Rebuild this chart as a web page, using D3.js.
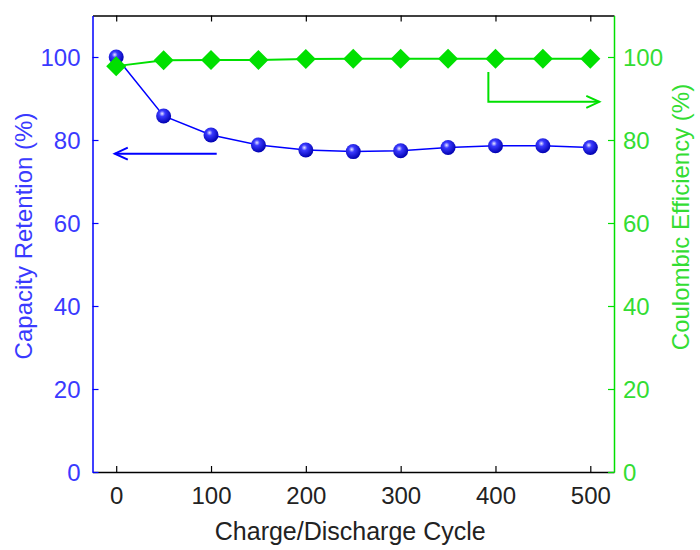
<!DOCTYPE html>
<html>
<head>
<meta charset="UTF-8" />
<title>Capacity retention</title>
<script src="https://cdn.jsdelivr.net/npm/d3@7"></script>
<style>
  body { margin: 0; background: #fff; }
  text { font-family: "Liberation Sans", Arial, sans-serif; }
</style>
</head>
<body>
<div id="chart"></div>
<script>
// data
const cycles = [0, 50, 100, 150, 200, 250, 300, 350, 400, 450, 500];
const retention = [100, 85.8, 81.2, 78.8, 77.6, 77.2, 77.4, 78.2, 78.6, 78.6, 78.2];
const efficiency = [97.8, 99.2, 99.3, 99.3, 99.5, 99.6, 99.6, 99.6, 99.6, 99.6, 99.6];
const xTicks = [0, 100, 200, 300, 400, 500];
const yTicks = [0, 20, 40, 60, 80, 100];

const W = 700, H = 550;
const mLeft = 92.5, mRight = 614, mTop = 15.5, mBottom = 472;
const blue = '#0000ff', blueText = '#3a3aff';
const green = '#00e000', greenText = '#33dd33';

const svg = d3.select('#chart').append('svg')
  .attr('width', W).attr('height', H);

const x = d3.scaleLinear().domain([-25, 525]).range([mLeft, mRight]);
const yL = d3.scaleLinear().domain([0, 110]).range([mBottom, mTop]);
const yR = d3.scaleLinear().domain([0, 110]).range([mBottom, mTop]);

// gradient for the spheres
const defs = svg.append('defs');
const grad = defs.append('radialGradient').attr('id', 'ball')
  .attr('cx', '40%').attr('cy', '35%').attr('r', '65%');
grad.append('stop').attr('offset', '0%').attr('stop-color', '#e8e8ff');
grad.append('stop').attr('offset', '30%').attr('stop-color', '#3a3aff');
grad.append('stop').attr('offset', '100%').attr('stop-color', '#0000b0');

// bottom axis
const xb = svg.append('g').attr('transform', `translate(0,${mBottom})`)
  .call(d3.axisBottom(x).tickValues(xTicks).tickSizeInner(-6).tickSizeOuter(0).tickPadding(15));
xb.select('.domain').attr('stroke', '#000').attr('stroke-width', 1.5);
xb.selectAll('.tick line').attr('stroke', '#000').attr('stroke-width', 1.2);
xb.selectAll('.tick text').attr('fill', '#222').attr('font-size', 24);

// top axis, ticks only
const xt = svg.append('g').attr('transform', `translate(0,${mTop})`)
  .call(d3.axisTop(x).tickValues(xTicks).tickSizeInner(-6).tickSizeOuter(0).tickFormat(''));
xt.select('.domain').attr('stroke', '#000').attr('stroke-width', 1.5);
xt.selectAll('.tick line').attr('stroke', '#000').attr('stroke-width', 1.2);

// left axis
const yl = svg.append('g').attr('transform', `translate(${mLeft},0)`)
  .call(d3.axisLeft(yL).tickValues(yTicks).tickSizeInner(-6).tickSizeOuter(0).tickPadding(12));
yl.select('.domain').attr('stroke', blue).attr('stroke-width', 1.5);
yl.selectAll('.tick line').attr('stroke', blue).attr('stroke-width', 1.2);
yl.selectAll('.tick text').attr('fill', blueText).attr('font-size', 24);

// right axis
const yr = svg.append('g').attr('transform', `translate(${mRight},0)`)
  .call(d3.axisRight(yR).tickValues(yTicks).tickSizeInner(-6).tickSizeOuter(0).tickPadding(9));
yr.select('.domain').attr('stroke', green).attr('stroke-width', 1.5);
yr.selectAll('.tick line').attr('stroke', green).attr('stroke-width', 1.2);
yr.selectAll('.tick text').attr('fill', greenText).attr('font-size', 24);

svg.selectAll('.tick text').attr('dy', '0.36em');
xb.selectAll('.tick text').attr('dy', '0.71em');

// axis titles
svg.append('text').attr('x', (mLeft + mRight) / 2 - 3).attr('y', 540)
  .attr('text-anchor', 'middle').attr('font-size', 25).attr('fill', '#222')
  .text('Charge/Discharge Cycle');
svg.append('text').attr('transform', 'translate(32,236) rotate(-90)')
  .attr('text-anchor', 'middle').attr('font-size', 24).attr('fill', blueText)
  .text('Capacity Retention (%)');
svg.append('text').attr('transform', 'translate(689,217) rotate(-90)')
  .attr('text-anchor', 'middle').attr('font-size', 24).attr('fill', greenText)
  .text('Coulombic Efficiency (%)');

// retention series
const blueLine = d3.line().x((d, i) => x(cycles[i])).y(d => yL(d));
svg.append('path').datum(retention).attr('d', blueLine)
  .attr('fill', 'none').attr('stroke', blue).attr('stroke-width', 1.5);
svg.append('g').selectAll('circle').data(retention).join('circle')
  .attr('cx', (d, i) => x(cycles[i])).attr('cy', d => yL(d)).attr('r', 7.5)
  .attr('fill', 'url(#ball)');

// efficiency series
const greenLine = d3.line().x((d, i) => x(cycles[i])).y(d => yR(d));
svg.append('path').datum(efficiency).attr('d', greenLine)
  .attr('fill', 'none').attr('stroke', green).attr('stroke-width', 2);
const diamond = d3.symbol().type(d3.symbolSquare).size(200);
svg.append('g').selectAll('path').data(efficiency).join('path')
  .attr('d', diamond)
  .attr('transform', (d, i) => `translate(${x(cycles[i])},${yR(d)}) rotate(45)`)
  .attr('fill', green);

// arrows pointing at the axes
function head(x0, y0, dir, color) {
  const len = 13, spread = 6;
  const p = d3.path();
  p.moveTo(x0 - dir * len, y0 - spread);
  p.lineTo(x0, y0);
  p.lineTo(x0 - dir * len, y0 + spread);
  svg.append('path').attr('d', p.toString()).attr('fill', 'none')
    .attr('stroke', color).attr('stroke-width', 2);
}
const blueArrow = [[106, 76.7], [-1.5, 76.7]];
svg.append('path').datum(blueArrow)
  .attr('d', d3.line().x(d => x(d[0])).y(d => yL(d[1])))
  .attr('fill', 'none').attr('stroke', blue).attr('stroke-width', 2);
head(x(-1.5), yL(76.7), -1, blue);

const greenArrow = [[392.5, 96.4], [392.5, 89.2], [509.5, 89.2]];
svg.append('path').datum(greenArrow)
  .attr('d', d3.line().x(d => x(d[0])).y(d => yR(d[1])))
  .attr('fill', 'none').attr('stroke', green).attr('stroke-width', 2);
head(x(509.5), yR(89.2), 1, green);
</script>
</body>
</html>
